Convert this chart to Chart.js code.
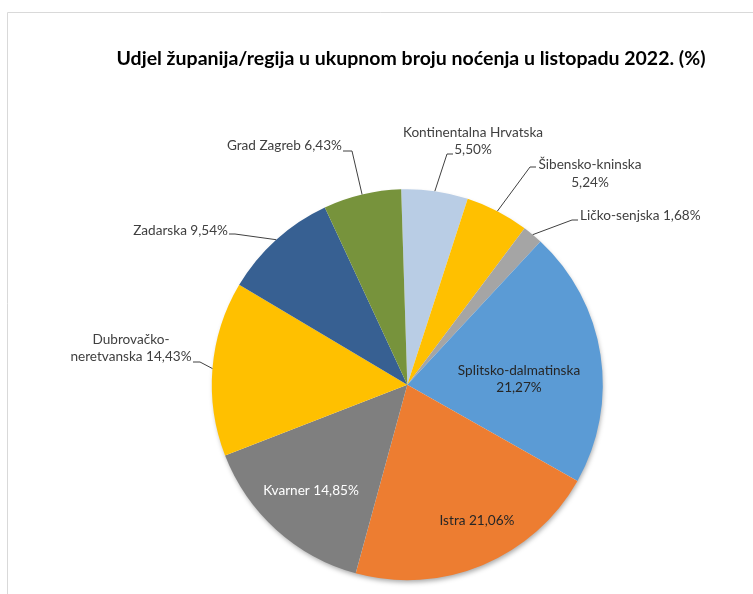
<!DOCTYPE html>
<html>
<head>
<meta charset="utf-8">
<script src="https://cdn.jsdelivr.net/npm/chart.js@4.4.1/dist/chart.umd.min.js"></script>
<style>
html,body{margin:0;padding:0;background:#fff;}
#wrap{position:relative;width:753px;height:594px;}
</style>
</head>
<body>
<div id="wrap"><canvas id="pie" width="753" height="594"></canvas></div>
<script>
const title='Udjel županija/regija u ukupnom broju noćenja u listopadu 2022. (%)';
const regions=['Kontinentalna Hrvatska','Šibensko-kninska','Ličko-senjska','Splitsko-dalmatinska','Istra','Kvarner','Dubrovačko-neretvanska','Zadarska','Grad Zagreb'];
const shares=[5.50,5.24,1.68,21.27,21.06,14.85,14.43,9.54,6.43];
const colors=['#B9CDE5','#FFC000','#A5A5A5','#5B9BD5','#ED7D31','#7F7F7F','#FFC000','#376092','#77933C'];

/* gdje stoje natpisi: linije teksta, poravnanje, lom linije */
const placing=[
  {lines:['Kontinentalna Hrvatska','5,50%'],x:473,y:[133,150],align:'center',elbow:[[447,154],[453,154]]},
  {lines:['Šibensko-kninska','5,24%'],x:590,y:[165,183],align:'center',elbow:[[530,167],[536,167]]},
  {lines:['Ličko-senjska 1,68%'],x:580,y:[216],align:'left',elbow:[[572,220],[578,220]]},
  {lines:['Splitsko-dalmatinska','21,27%'],x:519,y:[371,388],align:'center',color:'#262626'},
  {lines:['Istra 21,06%'],x:477,y:[521],align:'center',color:'#262626'},
  {lines:['Kvarner 14,85%'],x:311,y:[491],align:'center',color:'#ffffff'},
  {lines:['Dubrovačko-','neretvanska 14,43%'],x:131,y:[340,357],align:'center',elbow:[[200,362],[193,362]]},
  {lines:['Zadarska 9,54%'],x:228,y:[231],align:'right',elbow:[[235,234],[229,234]]},
  {lines:['Grad Zagreb 6,43%'],x:342,y:[146],align:'right',elbow:[[352,151],[343,151]]}
];

/* okvir, naslov, sjena */
const frame={
  id:'frame',
  beforeDraw(c){
    const g=c.ctx;
    g.save();
    g.strokeStyle='#d9d9d9';g.lineWidth=1;
    g.beginPath();g.moveTo(7.5,594);g.lineTo(7.5,12.5);g.lineTo(753,12.5);g.stroke();
    g.fillStyle='#000';g.font='bold 19.5px Lato';g.textAlign='center';g.textBaseline='middle';
    g.fillText(title,411,59);
    g.restore();
  },
  beforeDatasetsDraw(c){
    const a=c.getDatasetMeta(0).data[0];
    if(!a)return;
    const g=c.ctx;
    g.save();
    g.shadowColor='rgba(0,0,0,0.35)';g.shadowBlur=5;g.shadowOffsetX=1;g.shadowOffsetY=3;
    g.fillStyle='#fff';
    g.beginPath();g.arc(a.x,a.y,a.outerRadius-1,0,Math.PI*2);g.fill();
    g.restore();
  }
};

/* natpisi s linijama */
const labels={
  id:'labels',
  afterDatasetsDraw(c){
    const g=c.ctx,arcs=c.getDatasetMeta(0).data;
    g.save();
    g.font='13.6px Lato';g.textBaseline='middle';
    arcs.forEach((a,i)=>{
      const p=placing[i];
      if(p.elbow){
        const m=(a.startAngle+a.endAngle)/2;
        const ex=a.x+Math.cos(m)*a.outerRadius,ey=a.y+Math.sin(m)*a.outerRadius;
        g.strokeStyle='#404040';g.lineWidth=1;
        g.beginPath();g.moveTo(ex,ey);
        p.elbow.forEach(q=>g.lineTo(q[0],q[1]));
        g.stroke();
      }
      g.fillStyle=p.color||'#404040';g.textAlign=p.align;
      p.lines.forEach((t,k)=>g.fillText(t,p.x,p.y[k]));
    });
    g.restore();
  }
};

new Chart(document.getElementById('pie'),{
  type:'pie',
  data:{labels:regions,datasets:[{data:shares,backgroundColor:colors,borderWidth:0}]},
  options:{
    responsive:false,animation:false,rotation:-1.8,
    layout:{padding:{left:211.8,right:150.2,top:189.2,bottom:13.8}},
    plugins:{legend:{display:false},title:{display:false},tooltip:{enabled:false}}
  },
  plugins:[frame,labels]
});
</script>
</body>
</html>
